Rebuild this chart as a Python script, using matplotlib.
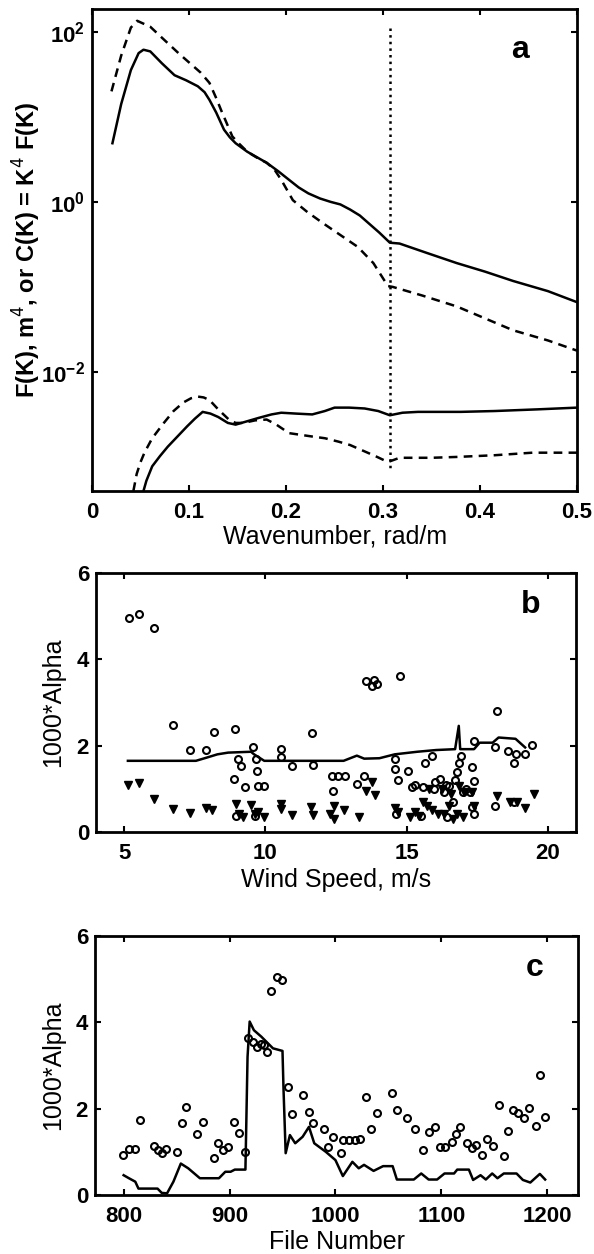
import numpy as np
import matplotlib.pyplot as plt

plt.rcParams['font.family'] = ['Liberation Sans', 'DejaVu Sans']

# panel a: spectra (log10 values)
k_top_dash = [0.020, 0.030, 0.040, 0.0465, 0.060, 0.074, 0.090, 0.101, 0.112, 0.121, 0.128, 0.133, 0.139,
              0.1446, 0.152, 0.160, 0.170, 0.180, 0.188, 0.195, 0.207, 0.222, 0.238, 0.256, 0.274, 0.290,
              0.305, 0.310, 0.340, 0.376, 0.405, 0.434, 0.470, 0.500]
f_top_dash = [1.30, 1.72, 2.05, 2.13, 2.06, 1.91, 1.74, 1.63, 1.52, 1.40, 1.22, 1.08, 0.92,
              0.77, 0.68, 0.59, 0.52, 0.46, 0.38, 0.26, 0.02, -0.12, -0.25, -0.39, -0.53, -0.72,
              -0.99, -1.0, -1.10, -1.23, -1.37, -1.51, -1.63, -1.75]
k_top_sol = [0.021, 0.030, 0.040, 0.048, 0.053, 0.060, 0.072, 0.085, 0.097, 0.109, 0.116, 0.121, 0.128,
             0.136, 0.142, 0.148, 0.160, 0.180, 0.192, 0.203, 0.213, 0.223, 0.235, 0.246, 0.256, 0.266,
             0.276, 0.285, 0.296, 0.307, 0.317, 0.345, 0.376, 0.405, 0.434, 0.470, 0.500]
f_top_sol = [0.69, 1.15, 1.55, 1.75, 1.79, 1.77, 1.63, 1.49, 1.43, 1.36, 1.29, 1.20, 1.05,
             0.85, 0.76, 0.69, 0.59, 0.46, 0.36, 0.26, 0.17, 0.10, 0.04, 0.00, -0.03, -0.09,
             -0.16, -0.25, -0.36, -0.48, -0.49, -0.60, -0.72, -0.82, -0.93, -1.05, -1.18]
k_bot_dash = [0.0426, 0.046, 0.050, 0.054, 0.062, 0.074, 0.084, 0.094, 0.102, 0.109, 0.115, 0.121, 0.130,
              0.141, 0.148, 0.156, 0.168, 0.180, 0.190, 0.203, 0.215, 0.227, 0.240, 0.254, 0.266, 0.278,
              0.292, 0.305, 0.317, 0.350, 0.376, 0.415, 0.454, 0.500]
f_bot_dash = [-3.40, -3.20, -3.06, -2.95, -2.78, -2.60, -2.46, -2.36, -2.31, -2.29, -2.30, -2.33, -2.44,
              -2.56, -2.60, -2.60, -2.57, -2.56, -2.62, -2.72, -2.74, -2.76, -2.78, -2.82, -2.86, -2.92,
              -2.99, -3.06, -3.01, -3.01, -3.00, -2.98, -2.95, -2.95]
k_bot_sol = [0.053, 0.056, 0.062, 0.070, 0.078, 0.088, 0.098, 0.106, 0.114, 0.122, 0.130, 0.140, 0.148,
             0.160, 0.172, 0.185, 0.195, 0.210, 0.227, 0.240, 0.250, 0.265, 0.281, 0.295, 0.307, 0.320,
             0.336, 0.380, 0.415, 0.460, 0.500]
f_bot_sol = [-3.40, -3.28, -3.11, -2.99, -2.88, -2.76, -2.64, -2.55, -2.47, -2.49, -2.53, -2.60, -2.62,
             -2.58, -2.54, -2.50, -2.48, -2.49, -2.50, -2.46, -2.42, -2.42, -2.43, -2.46, -2.51, -2.48,
             -2.47, -2.47, -2.46, -2.44, -2.42]
k_cut = 0.307

# panel b: alpha vs wind speed
ws_circ = [5.17, 5.54, 6.07, 6.74, 7.32, 7.91, 8.17, 8.92, 8.88, 9.02, 9.15, 9.29, 9.55, 9.66, 9.69, 9.75,
           9.96, 10.56, 10.56, 10.96, 11.66, 11.70, 12.37, 12.41, 12.57, 12.81, 13.24, 13.57, 13.77, 13.84,
           13.95, 14.58, 14.60, 14.78, 14.71, 15.04, 15.18, 15.65, 15.91, 15.98, 16.18, 16.32, 16.52, 16.65,
           16.79, 16.85, 16.92, 16.99, 17.25, 17.32, 17.39, 17.39, 17.32, 18.19, 18.12, 18.59, 18.79, 18.86,
           19.20, 19.46, 18.79, 18.12, 17.39, 16.45, 15.52, 14.64, 13.50, 9.62, 8.95, 15.30, 15.60, 16.00,
           16.40, 16.70, 17.10]
al_circ = [4.95, 5.05, 4.72, 2.49, 1.90, 1.90, 2.32, 2.38, 1.23, 1.69, 1.53, 1.04, 1.96, 1.69, 1.42, 1.07,
           1.07, 1.92, 1.73, 1.53, 2.29, 1.55, 1.30, 0.96, 1.30, 1.29, 1.11, 3.49, 3.39, 3.53,
           3.44, 1.69, 1.46, 3.62, 1.21, 1.42, 1.04, 1.61, 1.77, 1.00, 1.23, 0.92, 1.07, 0.69,
           1.38, 1.61, 1.77, 0.92, 0.92, 1.50, 1.19, 2.11, 0.58, 2.80, 1.96, 1.88, 1.61, 1.80,
           1.80, 2.02, 0.69, 0.61, 0.42, 0.35, 0.38, 0.42, 1.30, 0.38, 0.38, 1.10, 1.05, 1.15,
           1.10, 1.20, 1.00]
ws_tri = [5.13, 5.54, 6.07, 6.74, 7.32, 7.88, 8.12, 8.95, 9.06, 9.22, 9.49, 9.62, 9.75, 9.96, 10.56, 10.56,
          10.96, 11.63, 11.70, 12.30, 12.43, 12.43, 12.77, 13.30, 13.57, 13.77, 13.90, 14.58, 14.71, 15.11,
          15.31, 15.45, 15.58, 15.71, 15.91, 16.12, 16.32, 16.52, 16.65, 16.79, 16.99, 16.85, 17.05, 17.32,
          17.39, 18.19, 18.65, 18.92, 19.20, 19.50, 15.78, 16.25, 16.58]
al_tri = [1.09, 1.14, 0.77, 0.54, 0.45, 0.55, 0.52, 0.65, 0.42, 0.35, 0.63, 0.42, 0.46, 0.35, 0.65, 0.54,
          0.40, 0.58, 0.40, 0.42, 0.61, 0.31, 0.50, 0.35, 0.96, 1.15, 0.86, 0.55, 0.46, 0.35,
          0.46, 0.38, 0.69, 0.61, 0.50, 0.42, 0.42, 0.61, 0.31, 0.42, 0.35, 1.07, 0.92, 0.92,
          0.61, 0.84, 0.69, 0.69, 0.55, 0.88, 1.00, 1.00, 0.88]
ws_line = [5.13, 7.54, 7.9, 8.3, 8.68, 9.49, 9.6, 9.96, 12.77, 13.24, 13.5, 14.04, 14.58, 15.38, 16.05,
           16.72, 16.85, 16.9, 16.92, 17.0, 17.39, 17.59, 18.05, 18.26, 18.86, 19.2]
al_line = [1.65, 1.65, 1.72, 1.80, 1.84, 1.86, 1.80, 1.65, 1.65, 1.77, 1.70, 1.71, 1.80, 1.86, 1.90,
           1.92, 2.46, 1.92, 1.92, 1.92, 1.92, 2.07, 2.07, 2.19, 2.16, 1.96]

# panel c: alpha vs file number
fn_circ = [799, 805, 811, 815, 829, 832, 836, 840, 850, 855, 859, 869, 875, 885, 889, 894, 899, 904, 909,
           915, 917, 922, 926, 930, 933, 935, 939, 945, 950, 955, 959, 969, 975, 979, 989, 993, 998, 1005,
           1007, 1013, 1018, 1023, 1029, 1034, 1039, 1053, 1058, 1068, 1075, 1083, 1088, 1094, 1099, 1103,
           1110, 1114, 1118, 1124, 1129, 1133, 1138, 1143, 1149, 1154, 1159, 1163, 1168, 1172, 1178, 1183,
           1189, 1193, 1198]
ac_circ = [0.93, 1.06, 1.06, 1.75, 1.14, 1.04, 0.98, 1.07, 1.00, 1.68, 2.03, 1.41, 1.70, 0.87, 1.21, 1.04,
           1.12, 1.70, 1.43, 1.00, 3.63, 3.55, 3.44, 3.51, 3.47, 3.32, 4.73, 5.06, 4.98, 2.51, 1.88, 2.32,
           1.93, 1.66, 1.54, 1.12, 1.35, 0.97, 1.27, 1.27, 1.27, 1.29, 2.28, 1.54, 1.91, 2.37, 1.97, 1.78,
           1.54, 1.04, 1.47, 1.58, 1.12, 1.12, 1.24, 1.41, 1.58, 1.20, 1.10, 1.16, 0.93, 1.29, 1.14, 2.08,
           0.90, 1.49, 1.97, 1.89, 1.78, 2.01, 1.60, 2.78, 1.80]
fn_line = [800, 805, 811, 814, 832, 836, 841, 847, 854, 861, 872, 890, 896, 901, 905, 915, 916, 917, 919,
           923, 930, 941, 950, 951, 953, 957, 962, 969, 975, 980, 991, 1000, 1007, 1016, 1022, 1027, 1036,
           1045, 1054, 1058, 1074, 1081, 1088, 1096, 1103, 1112, 1115, 1126, 1130, 1137, 1142, 1148, 1153,
           1159, 1171, 1177, 1184, 1193, 1198]
ac_line = [0.46, 0.39, 0.31, 0.15, 0.15, 0.05, 0.04, 0.31, 0.73, 0.62, 0.39, 0.39, 0.54, 0.54, 0.59, 0.59,
           1.89, 3.20, 4.02, 3.82, 3.67, 3.40, 3.34, 2.43, 0.97, 1.39, 1.20, 1.35, 1.58, 1.20, 1.00, 0.81,
           0.44, 0.77, 0.62, 0.70, 0.56, 0.67, 0.67, 0.36, 0.36, 0.50, 0.36, 0.36, 0.50, 0.50, 0.59, 0.59,
           0.35, 0.46, 0.36, 0.50, 0.39, 0.50, 0.50, 0.35, 0.29, 0.49, 0.36]

fig = plt.figure(figsize=(5.94, 12.54), dpi=100)
TICK_FS = 16
LAB_FS = 18
LET_FS = 23


def style(ax, ylab_x, xlab_y):
    for s in ax.spines.values():
        s.set_linewidth(2)
    ax.tick_params(which='both', direction='in', top=True, right=True, length=4, width=1.5,
                   labelsize=TICK_FS)
    ax.tick_params(axis='x', pad=8)
    ax.tick_params(axis='y', pad=5)
    for lab in ax.get_xticklabels() + ax.get_yticklabels():
        lab.set_fontweight('bold')
    ax.yaxis.set_label_coords(ylab_x, 0.5)
    ax.xaxis.set_label_coords(0.5, xlab_y)


# --- a ---
ax = fig.add_axes([0.155, 0.6085, 0.8165, 0.3844])
ax.semilogy(k_top_sol, 10 ** np.array(f_top_sol), 'k-', lw=1.8)
ax.semilogy(k_top_dash, 10 ** np.array(f_top_dash), 'k--', lw=1.8, dashes=(3.5, 2.5))
ax.semilogy(k_bot_sol, 10 ** np.array(f_bot_sol), 'k-', lw=1.8)
ax.semilogy(k_bot_dash, 10 ** np.array(f_bot_dash), 'k--', lw=1.8, dashes=(3.5, 2.5))
ax.plot([k_cut, k_cut], [10 ** 2.05, 10 ** -3.15], 'k:', lw=1.8)
ax.set_xlim(0, 0.5)
ax.set_ylim(10 ** -3.4, 10 ** 2.27)
ax.set_yticks([1e-2, 1e0, 1e2])
ax.minorticks_off()
ax.set_xticks([0, 0.1, 0.2, 0.3, 0.4, 0.5])
ax.set_xticklabels(['0', '0.1', '0.2', '0.3', '0.4', '0.5'])
ax.set_xlabel('Wavenumber, rad/m', fontsize=LAB_FS, va='center')
ax.set_ylabel('F(K), m$^4$, or C(K) = K$^4$ F(K)', fontsize=17, fontweight='bold', va='center')
ax.text(0.882, 0.915, 'a', transform=ax.transAxes, fontsize=LET_FS, fontweight='bold',
        ha='center', va='center')
style(ax, -0.135, -0.095)

# --- b ---
ax = fig.add_axes([0.1616, 0.3365, 0.808, 0.2065])
ax.plot(ws_line, al_line, 'k-', lw=1.8)
ax.plot(ws_circ, al_circ, 'o', mfc='none', mec='k', ms=5, mew=1.5)
ax.plot(ws_tri, al_tri, 'v', mfc='k', mec='k', ms=6, mew=1)
ax.set_xlim(4, 21)
ax.set_ylim(0, 6)
ax.set_xticks([5, 10, 15, 20])
ax.set_yticks([0, 2, 4, 6])
ax.set_xlabel('Wind Speed, m/s', fontsize=LAB_FS, va='center')
ax.set_ylabel('1000*Alpha', fontsize=LAB_FS, va='center')
ax.text(0.906, 0.876, 'b', transform=ax.transAxes, fontsize=LET_FS, fontweight='bold',
        ha='center', va='center')
style(ax, -0.09, -0.185)

# --- c ---
ax = fig.add_axes([0.16, 0.047, 0.813, 0.2065])
ax.plot(fn_line, ac_line, 'k-', lw=1.8)
ax.plot(fn_circ, ac_circ, 'o', mfc='none', mec='k', ms=5, mew=1.5)
ax.set_xlim(773, 1229)
ax.set_ylim(0, 6)
ax.set_xticks([800, 900, 1000, 1100, 1200])
ax.set_yticks([0, 2, 4, 6])
ax.set_xlabel('File Number', fontsize=LAB_FS, va='center')
ax.set_ylabel('1000*Alpha', fontsize=LAB_FS, va='center')
ax.text(0.911, 0.876, 'c', transform=ax.transAxes, fontsize=LET_FS, fontweight='bold',
        ha='center', va='center')
style(ax, -0.087, -0.181)

fig.savefig('out.png', dpi=100)
